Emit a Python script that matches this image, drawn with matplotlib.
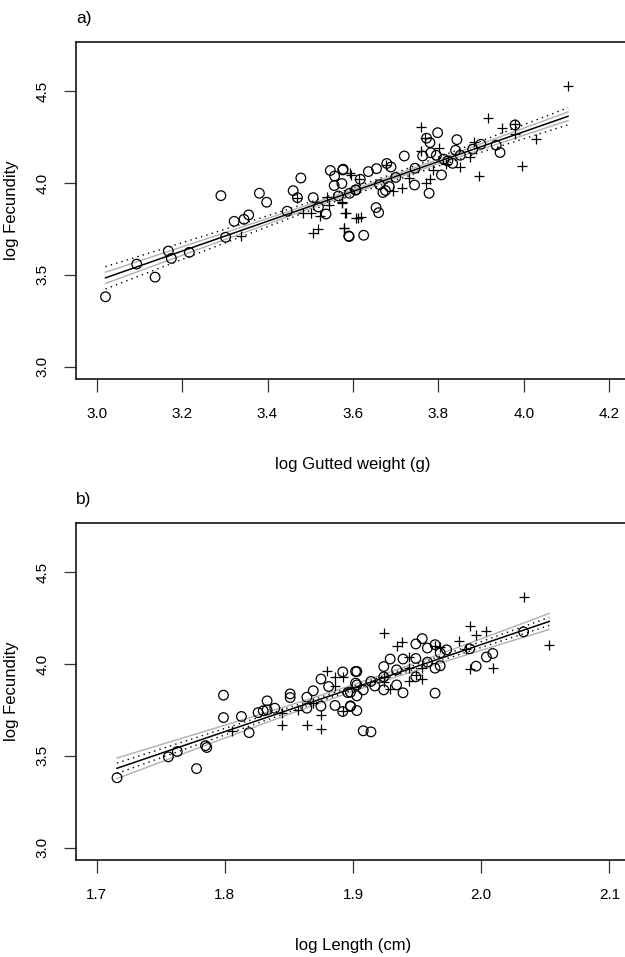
import numpy as np
import matplotlib
matplotlib.use("Agg")
import matplotlib.pyplot as plt

plt.rcParams['font.family'] = ['Liberation Sans', 'DejaVu Sans']

# ---------------- Panel a data: log gutted weight vs log fecundity ----------------
a_circ_x = [3.021, 3.094, 3.137, 3.168, 3.175, 3.217, 3.291, 3.302, 3.322, 3.345,
            3.356, 3.381, 3.398, 3.446, 3.460, 3.470, 3.478, 3.507, 3.519, 3.537,
            3.547, 3.557, 3.556, 3.577, 3.574, 3.591, 3.566, 3.607, 3.576, 3.592,
            3.606, 3.590, 3.625, 3.617, 3.636, 3.655, 3.662, 3.654, 3.660, 3.679,
            3.689, 3.670, 3.676, 3.685, 3.720, 3.744, 3.763, 3.772, 3.780, 3.798,
            3.778, 3.807, 3.782, 3.795, 3.833, 3.843, 3.840, 3.851, 3.880, 3.899,
            3.935, 3.944, 3.979, 3.812, 3.822, 3.700, 3.745]
a_circ_y = [3.380, 3.558, 3.487, 3.629, 3.589, 3.622, 3.931, 3.704, 3.791, 3.802,
            3.826, 3.944, 3.895, 3.846, 3.958, 3.920, 4.027, 3.920, 3.869, 3.831,
            4.068, 4.038, 3.986, 4.075, 3.997, 3.708, 3.929, 3.962, 4.071, 3.944,
            3.962, 3.711, 3.715, 4.020, 4.062, 4.078, 3.991, 3.866, 3.838, 4.106,
            4.087, 3.948, 3.959, 3.980, 4.147, 3.989, 4.147, 4.244, 4.220, 4.274,
            3.944, 4.044, 4.165, 4.151, 4.107, 4.236, 4.178, 4.151, 4.184, 4.211,
            4.206, 4.166, 4.316, 4.130, 4.120, 4.030, 4.080]

a_plus_x = [3.339, 3.470, 3.483, 3.502, 3.522, 3.506, 3.517, 3.539, 3.544, 3.574,
            3.584, 3.607, 3.578, 3.594, 3.614, 3.575, 3.582, 3.578, 3.596, 3.611,
            3.619, 3.678, 3.693, 3.715, 3.732, 3.759, 3.769, 3.760, 3.770, 3.779,
            3.787, 3.802, 3.818, 3.851, 3.874, 3.884, 3.894, 3.916, 3.948, 3.978,
            3.980, 3.996, 4.028, 4.103]
a_plus_y = [3.711, 3.920, 3.838, 3.838, 3.820, 3.729, 3.751, 3.922, 3.878, 3.898,
            3.838, 3.811, 3.755, 4.053, 4.024, 3.893, 3.838, 3.753, 4.046, 3.811,
            3.815, 4.098, 3.956, 3.975, 4.029, 4.307, 4.247, 4.175, 4.002, 4.020,
            4.069, 4.189, 4.102, 4.087, 4.139, 4.224, 4.037, 4.353, 4.300, 4.266,
            4.320, 4.091, 4.238, 4.529]

# ---------------- Panel b data: log length vs log fecundity ----------------
b_circ_x = [1.716, 1.756, 1.763, 1.778, 1.785, 1.786, 1.799, 1.799, 1.813, 1.819,
            1.826, 1.830, 1.833, 1.833, 1.839, 1.851, 1.851, 1.864, 1.864, 1.869,
            1.875, 1.875, 1.881, 1.886, 1.892, 1.892, 1.898, 1.898, 1.902, 1.902,
            1.903, 1.903, 1.908, 1.903, 1.896, 1.898, 1.903, 1.908, 1.914, 1.914,
            1.917, 1.924, 1.924, 1.929, 1.934, 1.934, 1.939, 1.939, 1.949, 1.954,
            1.949, 1.949, 1.958, 1.964, 1.964, 1.964, 1.968, 1.973, 1.991, 1.996,
            2.004, 2.009, 2.033, 1.958, 1.968, 1.924]
b_circ_y = [3.380, 3.494, 3.523, 3.430, 3.555, 3.545, 3.830, 3.708, 3.714, 3.626,
            3.735, 3.745, 3.799, 3.750, 3.759, 3.837, 3.817, 3.819, 3.759, 3.854,
            3.918, 3.770, 3.877, 3.774, 3.957, 3.741, 3.772, 3.846, 3.959, 3.896,
            3.959, 3.886, 3.859, 3.826, 3.844, 3.768, 3.746, 3.636, 3.630, 3.905,
            3.880, 3.859, 3.986, 4.027, 3.968, 3.886, 3.843, 4.027, 4.109, 4.138,
            4.030, 3.930, 4.087, 4.105, 3.977, 3.841, 4.060, 4.077, 4.083, 3.988,
            4.038, 4.057, 4.175, 4.010, 3.990, 3.930]

b_plus_x = [1.806, 1.845, 1.845, 1.857, 1.864, 1.869, 1.875, 1.875, 1.880, 1.886,
            1.886, 1.892, 1.892, 1.924, 1.934, 1.938, 1.924, 1.924, 1.929, 1.944,
            1.944, 1.949, 1.954, 1.944, 1.954, 1.964, 1.968, 1.983, 1.988, 1.991,
            1.996, 2.004, 1.991, 2.009, 2.033, 2.053]
b_plus_y = [3.637, 3.735, 3.668, 3.750, 3.670, 3.790, 3.723, 3.645, 3.963, 3.930,
            3.880, 3.930, 3.745, 4.168, 4.099, 4.120, 3.930, 3.900, 3.866, 3.908,
            4.038, 3.940, 3.920, 3.980, 3.980, 4.100, 4.090, 4.125, 4.082, 4.208,
            4.159, 4.181, 3.970, 3.976, 4.363, 4.103]

panels = [
    dict(label="a)", xlabel="log Gutted weight (g)",
         cx=a_circ_x, cy=a_circ_y, px=a_plus_x, py=a_plus_y,
         xlim=(3.0, 4.2), xticks=[3.0, 3.2, 3.4, 3.6, 3.8, 4.0, 4.2],
         dotted_k=1.98, gray_k=1.0),
    dict(label="b)", xlabel="log Length (cm)",
         cx=b_circ_x, cy=b_circ_y, px=b_plus_x, py=b_plus_y,
         xlim=(1.7, 2.1), xticks=[1.7, 1.8, 1.9, 2.0, 2.1],
         dotted_k=1.0, gray_k=1.98),
]
ylim = (3.0, 4.7)
yticks = [3.0, 3.5, 4.0, 4.5]

W, H = 625, 957
fig = plt.figure(figsize=(W / 100, H / 100), dpi=100)

ax_rects = [
    [76 / W, (H - 379) / H, 554 / W, 337 / H],
    [76 / W, (H - 860) / H, 554 / W, 337 / H],
]


def expand(lim, f=0.04):
    d = (lim[1] - lim[0]) * f
    return (lim[0] - d, lim[1] + d)


for p, rect in zip(panels, ax_rects):
    ax = fig.add_axes(rect)
    x = np.array(p["cx"] + p["px"])
    y = np.array(p["cy"] + p["py"])
    n = len(x)
    b1, b0 = np.polyfit(x, y, 1)
    resid = y - (b0 + b1 * x)
    s = np.sqrt(np.sum(resid ** 2) / (n - 2))
    xm = x.mean()
    sxx = np.sum((x - xm) ** 2)
    xs = np.linspace(x.min(), x.max(), 200)
    fit = b0 + b1 * xs
    se = s * np.sqrt(1.0 / n + (xs - xm) ** 2 / sxx)

    ax.plot(xs, fit + p["gray_k"] * se, color="#b0b0b0", lw=1.0, zorder=2)
    ax.plot(xs, fit - p["gray_k"] * se, color="#b0b0b0", lw=1.0, zorder=2)
    ax.plot(xs, fit + p["dotted_k"] * se, color="black", lw=1.0, ls=(0, (1, 3)), zorder=2)
    ax.plot(xs, fit - p["dotted_k"] * se, color="black", lw=1.0, ls=(0, (1, 3)), zorder=2)
    ax.plot(xs, fit, color="black", lw=1.1, zorder=3)

    ax.scatter(p["cx"], p["cy"], s=48, facecolors="none", edgecolors="black",
               linewidths=0.9, zorder=4)
    ax.scatter(p["px"], p["py"], s=60, marker="+", color="black",
               linewidths=0.9, zorder=4)

    ax.set_xlim(expand(p["xlim"]))
    ax.set_ylim(expand(ylim))
    ax.set_xticks(p["xticks"])
    ax.set_xticklabels([f"{t:.1f}" for t in p["xticks"]])
    ax.set_yticks(yticks)
    ax.set_yticklabels([f"{t:.1f}" for t in yticks], rotation=90, va="center")
    ax.tick_params(axis="both", direction="out", length=9, width=0.9,
                   labelsize=11, color="#333333")
    ax.tick_params(axis="x", pad=11)
    ax.tick_params(axis="y", pad=10)
    for sp in ["left", "bottom", "top"]:
        ax.spines[sp].set_linewidth(1.1)
    ax.spines["right"].set_visible(False)

    ax.set_xlabel(p["xlabel"], fontsize=12, labelpad=26)
    ax.set_ylabel("log Fecundity", fontsize=12, labelpad=12)
    ax.text(0.0, 1.0 + 16 / 337, p["label"], transform=ax.transAxes,
            fontsize=12.5, ha="left", va="bottom")

fig.savefig("out.png", dpi=100)
